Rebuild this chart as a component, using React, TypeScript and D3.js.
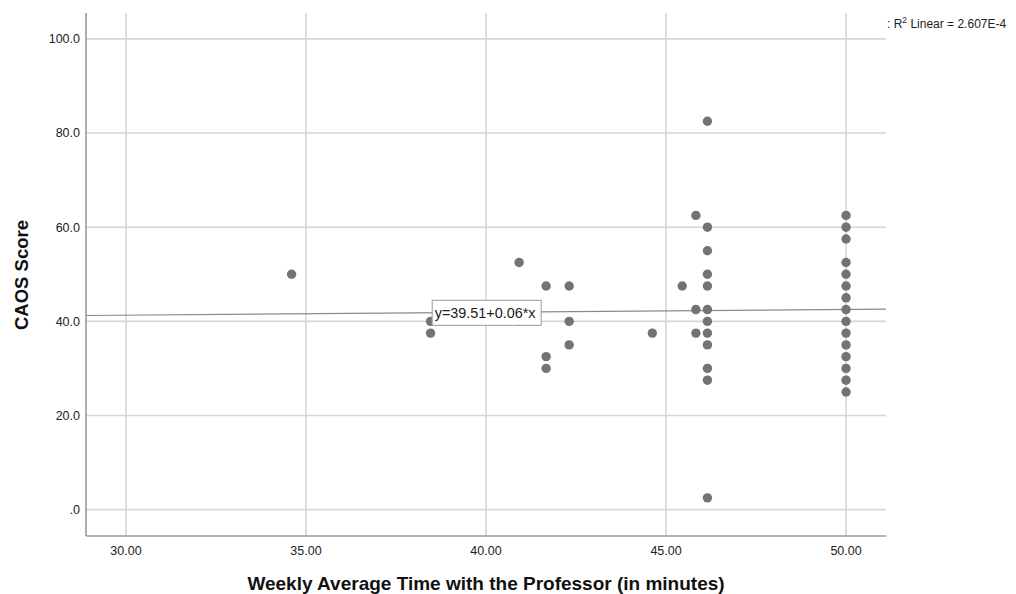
import React from "react";
import * as d3 from "d3";

const xValues = [
  34.6,
  38.46, 38.46,
  40.92, 40.92,
  41.67, 41.67, 41.67,
  42.31, 42.31, 42.31,
  44.62,
  45.45,
  45.83, 45.83, 45.83,
  46.15, 46.15, 46.15, 46.15, 46.15, 46.15, 46.15, 46.15, 46.15, 46.15, 46.15, 46.15,
  50, 50, 50, 50, 50, 50, 50, 50, 50, 50, 50, 50, 50, 50, 50,
];
const yValues = [
  50,
  40, 37.5,
  52.5, 40,
  47.5, 32.5, 30,
  47.5, 40, 35,
  37.5,
  47.5,
  62.5, 42.5, 37.5,
  82.5, 60, 55, 50, 47.5, 42.5, 40, 37.5, 35, 30, 27.5, 2.5,
  62.5, 60, 57.5, 52.5, 50, 47.5, 45, 42.5, 40, 37.5, 35, 32.5, 30, 27.5, 25,
];
const xTicks = [30, 35, 40, 45, 50];
const yTicks = [0, 20, 40, 60, 80, 100];
const intercept = 39.51;
const slope = 0.06;
const xDomain = [28.89, 51.11];
const yDomain = [-5.6, 105.5];
const labelAt = 38.45;

const FONT = "'Liberation Sans', Arial, Helvetica, sans-serif";

export default function App() {
  const W = 1016, H = 594;
  const left = 86, right = 886, top = 13, bottom = 536;
  const x = d3.scaleLinear().domain(xDomain).range([left, right]);
  const y = d3.scaleLinear().domain(yDomain).range([bottom, top]);
  const fit = (v: number) => intercept + slope * v;
  const yFmt = (v: number) => (v === 0 ? ".0" : d3.format(".1f")(v));
  const xFmt = d3.format(".2f");
  const lineGen = d3.line<number>().x((d) => x(d)).y((d) => y(fit(d)));

  const eqText = `y=${intercept.toFixed(2)}+${slope.toFixed(2)}*x`;
  const boxX = x(labelAt);
  const boxY = y(fit(labelAt));

  return (
    <svg
      width={W}
      height={H}
      style={{ position: "absolute", left: 0, top: 0, background: "#fff" }}
      fontFamily={FONT}
    >
      <rect x={0} y={0} width={W} height={H} fill="#fff" />
      {/* grid */}
      {xTicks.map((t) => (
        <line key={"gx" + t} x1={x(t)} x2={x(t)} y1={top} y2={bottom} stroke="#d6d6d6" strokeWidth={1.6} />
      ))}
      {yTicks.map((t) => (
        <line key={"gy" + t} x1={left} x2={right} y1={y(t)} y2={y(t)} stroke="#d6d6d6" strokeWidth={1.6} />
      ))}
      {/* axes */}
      <line x1={left} x2={left} y1={top} y2={bottom} stroke="#9a9a9a" strokeWidth={1.6} />
      <line x1={left} x2={right} y1={bottom} y2={bottom} stroke="#9a9a9a" strokeWidth={1.6} />
      {/* tick labels */}
      {yTicks.map((t) => (
        <text key={"ty" + t} x={left - 6} y={y(t)} dy="0.35em" textAnchor="end" fontSize={12.5} fill="#222">
          {yFmt(t)}
        </text>
      ))}
      {xTicks.map((t) => (
        <text key={"tx" + t} x={x(t)} y={555} textAnchor="middle" fontSize={12.5} fill="#222">
          {xFmt(t)}
        </text>
      ))}
      {/* fit line */}
      <path d={lineGen(xDomain) || ""} stroke="#8a8a8a" strokeWidth={1.2} fill="none" />
      {/* points */}
      {xValues.map((v, i) => (
        <circle key={"p" + i} cx={x(v)} cy={y(yValues[i])} r={4.7} fill="#737373" />
      ))}
      {/* equation label */}
      <g>
        <rect x={boxX + 2} y={boxY - 12.5} width={109} height={25} fill="#fff" stroke="#9a9a9a" strokeWidth={1} />
        <text x={boxX + 4.5} y={boxY} dy="0.35em" fontSize={14.4} fill="#222">
          {eqText}
        </text>
      </g>
      {/* R2 legend */}
      <text x={887} y={28} fontSize={12} fill="#222">
        : R<tspan dy={-5} fontSize={8.5}>2</tspan><tspan dy={5}> Linear = 2.607E-4</tspan>
      </text>
      {/* axis titles */}
      <text x={486} y={590} textAnchor="middle" fontSize={19} fontWeight="bold" fill="#111">
        Weekly Average Time with the Professor (in minutes)
      </text>
      <text
        transform={`translate(28,275) rotate(-90)`}
        textAnchor="middle"
        fontSize={18.5}
        fontWeight="bold"
        fill="#111"
      >
        CAOS Score
      </text>
    </svg>
  );
}
